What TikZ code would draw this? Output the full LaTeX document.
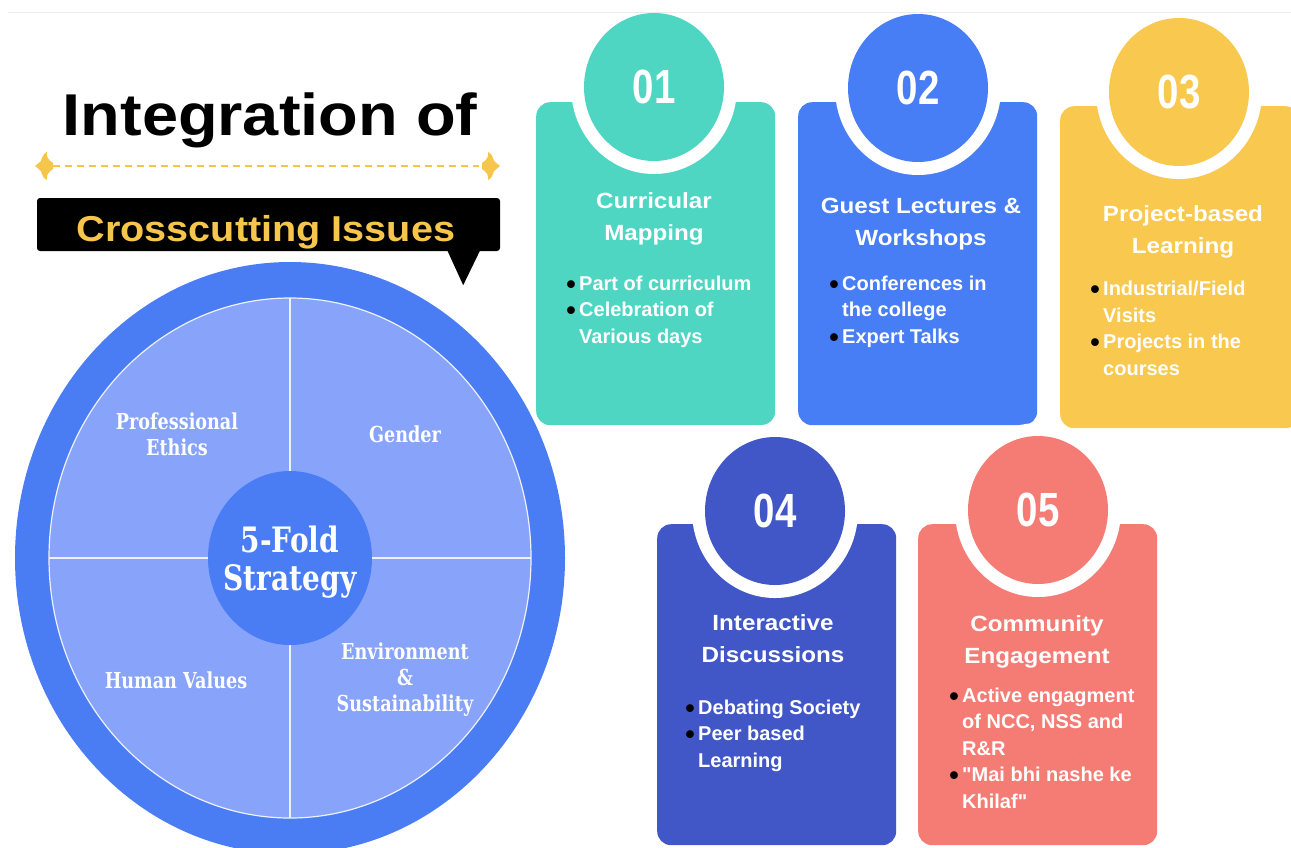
\documentclass[tikz,border=0pt]{standalone}
\usepackage{fontspec}
\setmainfont{Liberation Sans}
\newfontfamily\titlefont[FakeStretch=1.1]{Liberation Sans}
\newfontfamily\numfont[FakeStretch=0.8]{Liberation Sans}
\newfontfamily\itemfont[Ligatures=TeXOff]{Liberation Sans}
\newfontfamily\wheelfont[FakeStretch=0.8]{DejaVu Serif}
\usepackage{xcolor}
\usetikzlibrary{positioning, shapes.geometric, calc}

\definecolor{tealcard}{HTML}{4FD6C3}
\definecolor{bluecard}{HTML}{477DF5}
\definecolor{goldcard}{HTML}{F9C84F}
\definecolor{indigocard}{HTML}{4157C7}
\definecolor{salmoncard}{HTML}{F47C74}
\definecolor{wheelring}{HTML}{4A7DF4}
\definecolor{wheelfill}{HTML}{88A3FA}
\definecolor{goldtext}{HTML}{F6C54B}

\newcommand{\bul}{\llap{\raisebox{-3pt}{\textcolor{black}{\fontsize{27}{27}\selectfont\textbullet}}\hspace{3.5pt}}}

\begin{document}
\begin{tikzpicture}[x=1pt, y=-1pt,
    card/.style={rectangle, rounded corners=14pt, minimum width=239pt, anchor=north west, inner sep=0pt},
    badge/.style={ellipse, minimum width=140pt, minimum height=148pt, inner sep=0pt, text=white,
      font=\numfont\bfseries\fontsize{48}{48}\selectfont, preaction={draw=white, line width=26pt}},
    head/.style={text=white, align=center, anchor=base, inner sep=0pt,
      font=\titlefont\bfseries\fontsize{22}{31.5}\selectfont},
    bullets/.style={text=white, align=left, anchor=base west, inner sep=0pt,
      font=\itemfont\bfseries\fontsize{20}{26.5}\selectfont},
    sector/.style={text=white, align=center, inner sep=0pt,
      font=\wheelfont\bfseries\fontsize{22}{26}\selectfont}]
      \useasboundingbox (0,0) rectangle (1291,847);

      \node[font=\titlefont\bfseries\fontsize{59}{59}\selectfont, anchor=base, inner sep=0pt] (title) at (270,135) {Integration of};
      \draw[goldtext, line width=1.3pt, dash pattern=on 7pt off 5pt] (53,166) -- (479,166);
      \foreach \tip/\dir in {35/1, 500/-1}
        \fill[goldtext, shift={(\tip,166)}, xscale=\dir] (0,0) -- (6,-5) .. controls (7,-9) and (9,-13) .. (12,-14)
          .. controls (11,-10) and (13,-6) .. (18,-3) -- (18,3) .. controls (13,6) and (11,10) .. (12,14)
          .. controls (9,13) and (7,9) .. (6,5) -- cycle;

      \node[fill=black, rounded corners=3pt, minimum width=463pt, minimum height=53pt, inner sep=0pt] (banner) at (268.5,224.5) {};
      \fill[black] ($(banner.south east)+(-53,-1)$) -- ($(banner.south east)+(-20,-1)$) -- ($(banner.south east)+(-37,34)$) -- cycle;
      \node[font=\titlefont\bfseries\fontsize{36}{36}\selectfont, text=goldtext, anchor=base, inner sep=0pt] (issues) at (266,241) {Crosscutting Issues};

      \fill[wheelring] (290,558) ellipse [x radius=275, y radius=296];
      \filldraw[fill=wheelfill, draw=white!85!wheelfill, line width=1.2pt] (290,558) ellipse [x radius=241, y radius=260];
      \draw[white!85!wheelfill, line width=1.5pt] (290,298) -- (290,818);
      \draw[white!85!wheelfill, line width=1.5pt] (49,558) -- (531,558);
      \node[ellipse, fill=wheelring, minimum width=164pt, minimum height=174pt, inner sep=0pt] (hub) at (290,558) {};
      \node[text=white, align=center, anchor=base, inner sep=0pt,
        font=\wheelfont\bfseries\fontsize{35}{38}\selectfont] (strategy) at (290,590) {5-Fold\\Strategy};
      \node[sector] (ethics) at (177,434) {Professional\\Ethics};
      \node[sector] (gender) at (405,434) {Gender};
      \node[sector] (values) at (176,680) {Human Values};
      \node[sector] (environment) at (405,680) {Environment\\\&\\Sustainability};

      \node[card, fill=tealcard, minimum height=323pt] (card1) at (536,102) {};
      \node[card, fill=bluecard, minimum height=323pt] (card2) at (798,102) {};
      \node[card, fill=goldcard, minimum height=322pt] (card3) at (1060,106) {};
      \node[card, fill=indigocard, minimum height=321pt] (card4) at (657,524) {};
      \node[card, fill=salmoncard, minimum height=321pt] (card5) at (918,524) {};

      \node[badge, fill=tealcard] (num1) at (654,87) {01};
      \node[badge, fill=bluecard] (num2) at (918,88) {02};
      \node[badge, fill=goldcard] (num3) at (1179,92) {03};
      \node[badge, fill=indigocard] (num4) at (775,511) {04};
      \node[badge, fill=salmoncard] (num5) at (1038,510) {05};
      \draw[black!8] (8,12) -- (1291,12);

      \node[head] (head1) at (654,240) {Curricular\\Mapping};
      \node[head] (head2) at (921,245) {Guest Lectures \&\\Workshops};
      \node[head] (head3) at (1183,253) {Project-based\\Learning};
      \node[head] (head4) at (773,662) {Interactive\\Discussions};
      \node[head] (head5) at (1037,663) {Community\\Engagement};

      \node[bullets] (list1) at (579,343) {\bul Part of curriculum\\\bul Celebration of\\Various days};
      \node[bullets] (list2) at (842,343) {\bul Conferences in\\the college\\\bul Expert Talks};
      \node[bullets] (list3) at (1103,375) {\bul Industrial/Field\\Visits\\\bul Projects in the\\courses};
      \node[bullets] (list4) at (698,767) {\bul Debating Society\\\bul Peer based\\Learning};
      \node[bullets] (list5) at (962,808) {\bul Active engagment\\of NCC, NSS and\\R\&R\\\bul "Mai bhi nashe ke\\Khilaf"};
    \end{tikzpicture}
\end{document}
